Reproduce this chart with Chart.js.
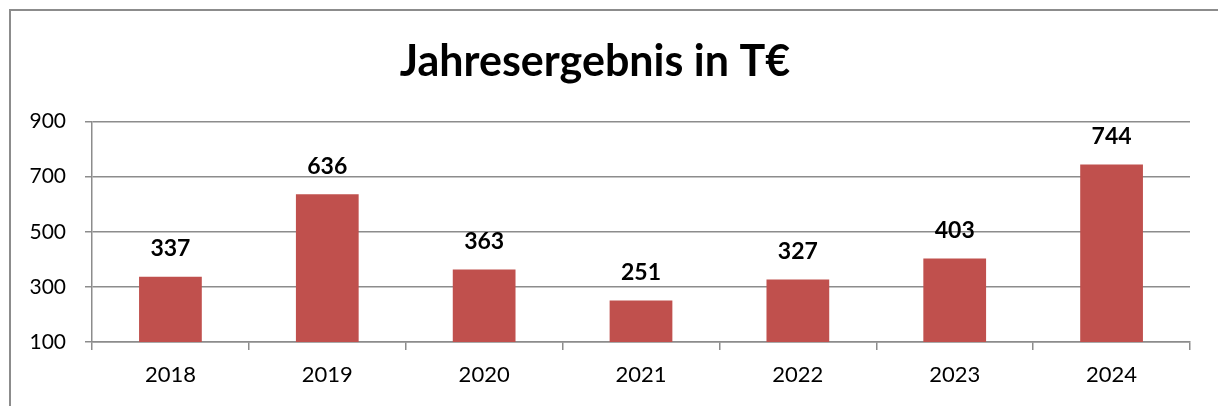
<!DOCTYPE html>
<html lang="de">
<head>
    <meta charset="UTF-8">
    <title>Jahresergebnis in T€</title>
    <script src="https://cdn.jsdelivr.net/npm/chart.js"></script>
    <style>
        html, body {
            margin: 0;
            padding: 0;
            width: 1218px;
            height: 406px;
            overflow: hidden;
            background: #fff;
        }
        .rahmen {
            position: absolute;
            left: 9px;
            top: 9px;
            width: 1240px;
            height: 440px;
            border: 2px solid #8c8c8c;
        }
        .box {
            position: absolute;
            left: 0;
            top: 0;
            width: 1218px;
            height: 406px;
        }
    </style>
</head>
<body>
    <div class="rahmen"></div>
    <div class="box"><canvas id="chart"></canvas></div>

    <script>
        const jahre = ['2018', '2019', '2020', '2021', '2022', '2023', '2024'];
        const ergebnis = [337, 636, 363, 251, 327, 403, 744];
        const yTicks = [100, 300, 500, 700, 900];

        const schrift = "Lato, 'Open Sans', sans-serif";
        const grau = '#8c8c8c';

        // Werte fett über den Balken
        const wertLabels = {
            id: 'wertLabels',
            afterDatasetsDraw(chart) {
                const ctx = chart.ctx;
                const meta = chart.getDatasetMeta(0);
                ctx.save();
                ctx.font = 'bold 23px ' + schrift;
                ctx.fillStyle = '#000';
                ctx.textAlign = 'center';
                ctx.textBaseline = 'middle';
                meta.data.forEach((bar, i) => {
                    ctx.fillText(ergebnis[i], bar.x, bar.y - 28);
                });
                ctx.restore();
            }
        };

        new Chart(document.getElementById('chart'), {
            type: 'bar',
            data: {
                labels: jahre,
                datasets: [{
                    data: ergebnis,
                    backgroundColor: '#C0504D',
                    categoryPercentage: 1,
                    barPercentage: 0.4
                }]
            },
            options: {
                responsive: true,
                maintainAspectRatio: false,
                animation: false,
                layout: {
                    padding: { left: 0, right: 28, top: 0, bottom: 0 }
                },
                plugins: {
                    legend: { display: false },
                    tooltip: { enabled: false },
                    title: {
                        display: true,
                        text: 'Jahresergebnis in T€',
                        color: '#000',
                        font: { family: schrift, size: 43, weight: 'bold' },
                        padding: { top: 36, bottom: 34 }
                    }
                },
                scales: {
                    x: {
                        grid: {
                            offset: true,
                            drawOnChartArea: false,
                            drawTicks: true,
                            tickLength: 8,
                            color: grau,
                            lineWidth: 1.5
                        },
                        border: { color: grau, width: 1.5 },
                        ticks: {
                            color: '#000',
                            font: { family: schrift, size: 22 },
                            padding: 12
                        },
                        afterFit(axis) { axis.height = 64; }
                    },
                    y: {
                        min: 100,
                        max: 900,
                        afterBuildTicks(axis) {
                            axis.ticks = yTicks.map(v => ({ value: v }));
                        },
                        grid: {
                            color: grau,
                            lineWidth: 1.5,
                            tickLength: 7
                        },
                        border: { color: grau, width: 1.5 },
                        ticks: {
                            color: '#000',
                            font: { family: schrift, size: 21 },
                            padding: 19
                        },
                        afterFit(axis) { axis.width = 92; }
                    }
                }
            },
            plugins: [wertLabels]
        });
    </script>
</body>
</html>
